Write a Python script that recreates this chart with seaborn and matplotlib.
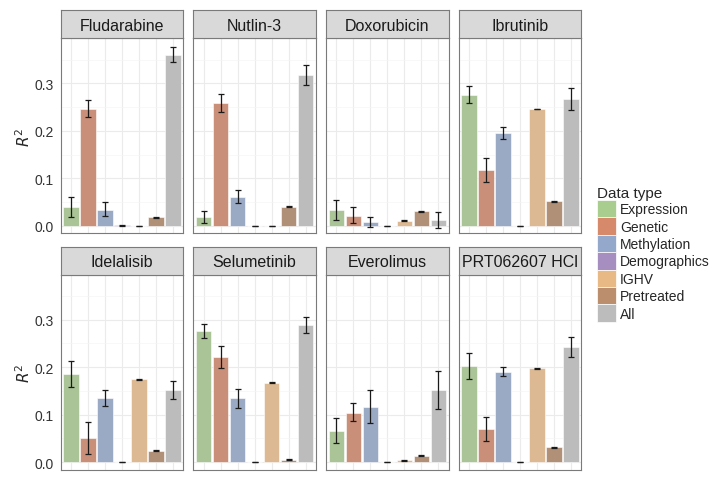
import numpy as np
import pandas as pd
import matplotlib
matplotlib.use("Agg")
import matplotlib.pyplot as plt
from matplotlib.patches import Patch
import seaborn as sns

# data
drugs = ["Fludarabine", "Nutlin-3", "Doxorubicin", "Ibrutinib",
         "Idelalisib", "Selumetinib", "Everolimus", "PRT062607 HCl"]
data_types = ["Expression", "Genetic", "Methylation", "Demographics",
              "IGHV", "Pretreated", "All"]
type_colors = ["#a9cc8f", "#d7896c", "#94a8cb", "#a68fc0",
               "#e9b985", "#bb8f6e", "#bcbcbc"]

r2_mean = [
    [0.039, 0.246, 0.034, 0.001, 0.000, 0.018, 0.360],
    [0.018, 0.258, 0.061, 0.000, 0.000, 0.040, 0.318],
    [0.034, 0.021, 0.007, 0.000, 0.010, 0.030, 0.012],
    [0.276, 0.118, 0.196, 0.000, 0.246, 0.052, 0.267],
    [0.186, 0.050, 0.136, 0.000, 0.175, 0.024, 0.152],
    [0.276, 0.221, 0.135, 0.000, 0.167, 0.005, 0.289],
    [0.066, 0.104, 0.117, 0.000, 0.004, 0.013, 0.152],
    [0.203, 0.070, 0.190, 0.000, 0.198, 0.031, 0.242],
]
r2_low = [
    [0.018, 0.229, 0.021, 0.000, 0.000, 0.017, 0.345],
    [0.006, 0.239, 0.047, 0.000, 0.000, 0.039, 0.297],
    [0.013, 0.005, -0.003, 0.000, 0.009, 0.029, -0.005],
    [0.259, 0.092, 0.182, 0.000, 0.245, 0.051, 0.243],
    [0.159, 0.017, 0.119, 0.000, 0.174, 0.023, 0.134],
    [0.261, 0.199, 0.115, 0.000, 0.166, 0.004, 0.272],
    [0.040, 0.086, 0.082, 0.000, 0.003, 0.012, 0.112],
    [0.175, 0.045, 0.181, 0.000, 0.197, 0.030, 0.221],
]
r2_high = [
    [0.061, 0.264, 0.049, 0.002, 0.000, 0.019, 0.376],
    [0.030, 0.278, 0.075, 0.000, 0.000, 0.041, 0.339],
    [0.055, 0.039, 0.018, 0.000, 0.011, 0.031, 0.028],
    [0.294, 0.143, 0.209, 0.000, 0.247, 0.053, 0.290],
    [0.214, 0.084, 0.151, 0.000, 0.176, 0.025, 0.171],
    [0.292, 0.245, 0.155, 0.000, 0.168, 0.006, 0.306],
    [0.094, 0.124, 0.151, 0.000, 0.005, 0.014, 0.193],
    [0.230, 0.096, 0.200, 0.000, 0.199, 0.032, 0.264],
]

rows = []
for i, drug in enumerate(drugs):
    for j, dt in enumerate(data_types):
        rows.append({"drug": drug, "type": dt, "r2": r2_mean[i][j],
                     "lo": r2_low[i][j], "hi": r2_high[i][j]})
df = pd.DataFrame(rows)

sns.set_style("white")
plt.rcParams["font.family"] = ["Liberation Sans", "DejaVu Sans"]

W, H = 719, 485
fig = plt.figure(figsize=(W / 100, H / 100), dpi=100)

col_x = [60.7, 193.3, 326.0, 458.7]
row_top = [39.3, 275.7]
pw, ph, sh = 122.6, 195.0, 28.0
palette = dict(zip(data_types, type_colors))

for k, drug in enumerate(drugs):
    r, c = divmod(k, 4)
    x0, y0 = col_x[c], row_top[r]
    ax = fig.add_axes([x0 / W, 1 - (y0 + ph) / H, pw / W, ph / H])
    sub = df[df.drug == drug]
    sns.barplot(data=sub, x="type", y="r2", hue="type", order=data_types,
                hue_order=data_types, palette=palette, width=0.9,
                errorbar=None, legend=False, ax=ax, zorder=2,
                edgecolor="white", linewidth=0.4)
    xs = np.arange(len(data_types))
    ax.errorbar(xs, sub.r2.values,
                yerr=[sub.r2.values - sub.lo.values, sub.hi.values - sub.r2.values],
                fmt="none", ecolor="#1a1a1a", elinewidth=0.9, capsize=2.2,
                capthick=0.9, zorder=3)
    ax.set_xlim(-0.6, 6.6)
    ax.set_ylim(-0.016, 0.395)
    ax.set_yticks([0.0, 0.1, 0.2, 0.3])
    ax.set_yticks([0.05, 0.15, 0.25, 0.35], minor=True)
    ax.set_xticks(xs)
    ax.set_xticklabels([])
    ax.set_xlabel("")
    ax.grid(True, which="major", color="#ebebeb", lw=0.8, zorder=0)
    ax.grid(True, which="minor", axis="y", color="#f5f5f5", lw=0.5, zorder=0)
    ax.set_axisbelow(True)
    ax.tick_params(axis="both", which="major", length=3, width=0.6,
                   color="#555555", labelsize=10, labelcolor="#333333", pad=2)
    ax.tick_params(axis="y", which="minor", length=0)
    if c == 0:
        ax.set_yticklabels(["0.0", "0.1", "0.2", "0.3"])
        ax.set_ylabel(r"$R^2$", fontsize=11, labelpad=1)
    else:
        ax.set_yticklabels([])
        ax.tick_params(axis="y", length=0)
        ax.set_ylabel("")
    for s in ax.spines.values():
        s.set_color("#7a7a7a")
        s.set_linewidth(0.8)

    # facet strip
    sax = fig.add_axes([x0 / W, 1 - y0 / H, pw / W, sh / H])
    sax.set_facecolor("#d9d9d9")
    sax.set_xticks([])
    sax.set_yticks([])
    for s in sax.spines.values():
        s.set_color("#7a7a7a")
        s.set_linewidth(0.8)
    sax.text(0.5, 0.47, drug, ha="center", va="center", fontsize=11.5,
             color="#1a1a1a", transform=sax.transAxes)

handles = [Patch(facecolor=col, edgecolor="white", linewidth=0.5) for col in type_colors]
leg = fig.legend(handles, data_types, loc="upper left",
                 bbox_to_anchor=(597 / W, 1 - 187 / H), frameon=False,
                 title="Data type", alignment="left", fontsize=10,
                 title_fontsize=11, borderpad=0, borderaxespad=0,
                 handlelength=1.35, handleheight=1.55, labelspacing=0.0,
                 handletextpad=0.3)

fig.savefig("out.png", dpi=100)
